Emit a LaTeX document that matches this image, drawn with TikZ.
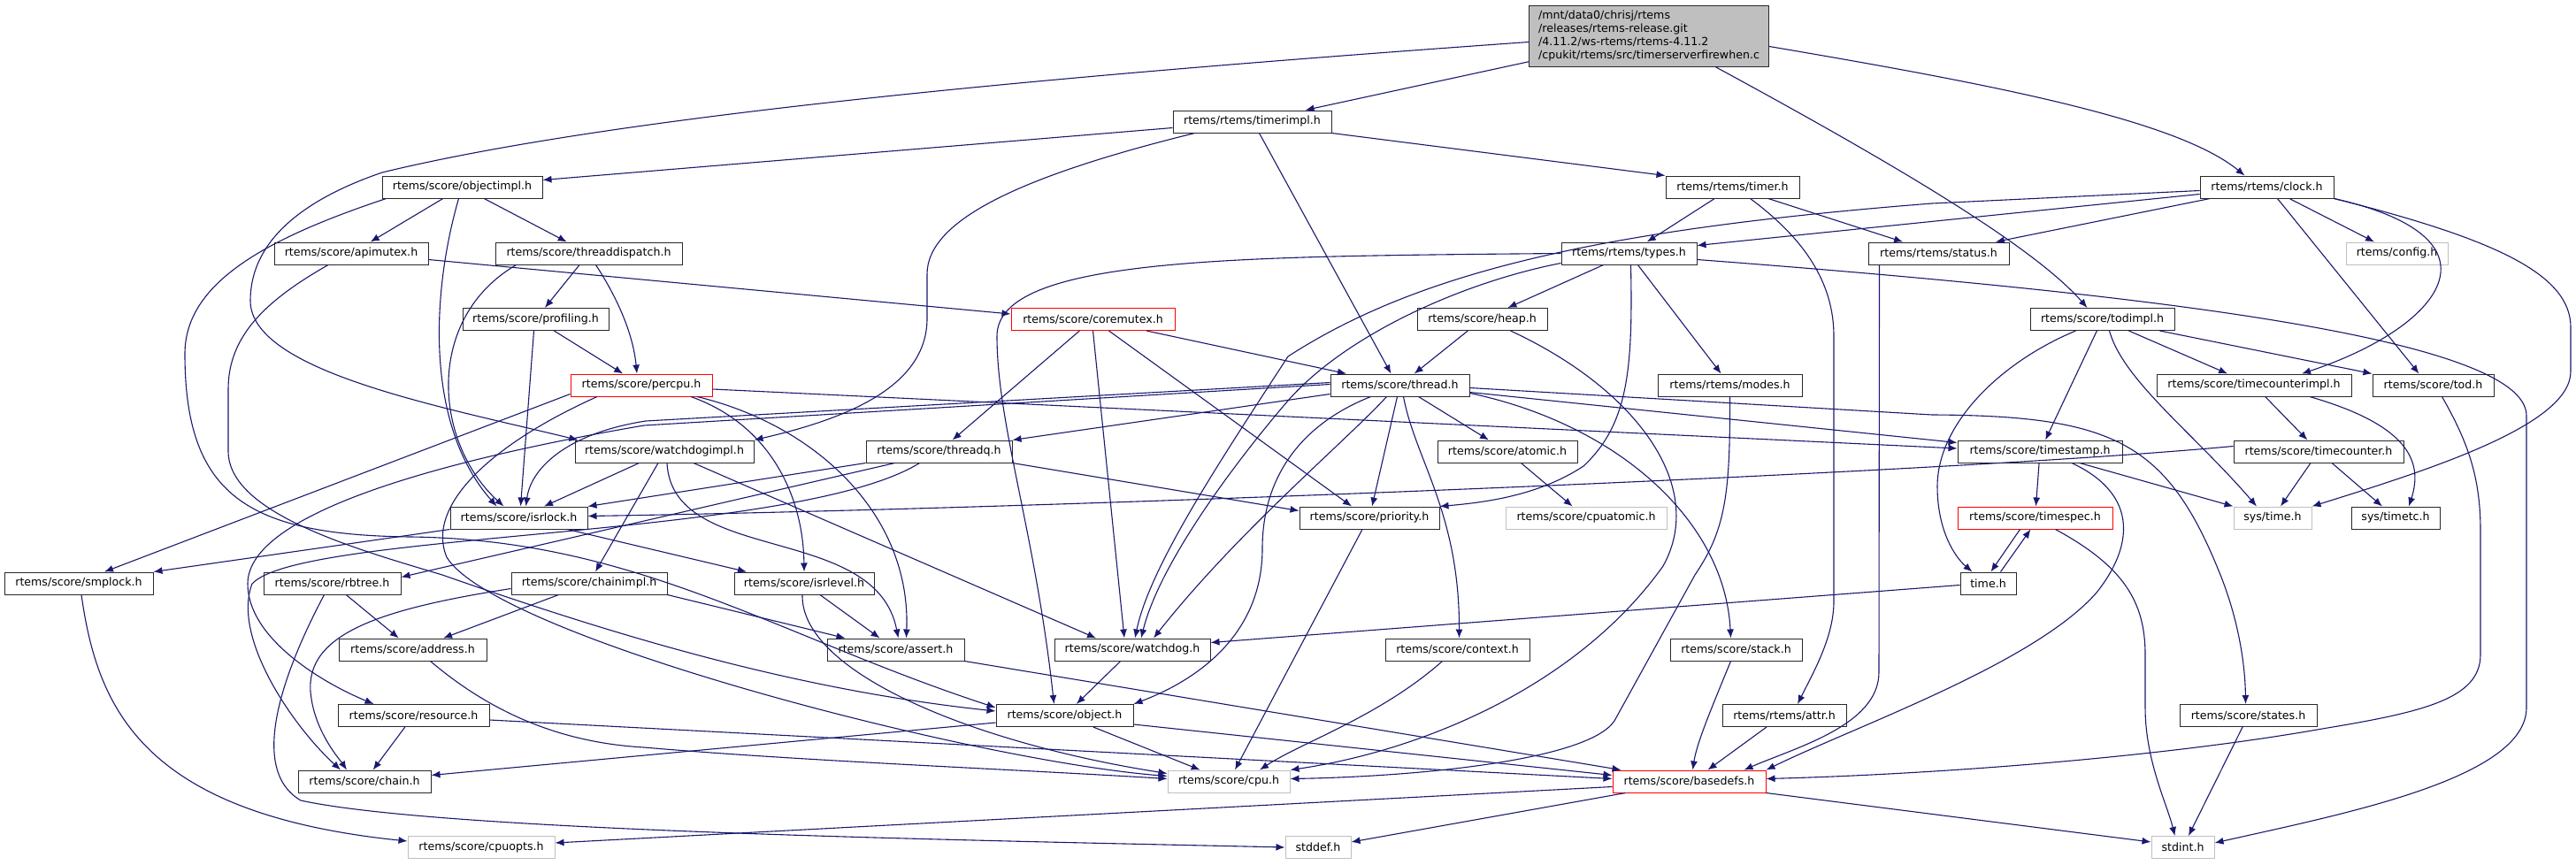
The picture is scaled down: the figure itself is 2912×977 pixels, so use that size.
\documentclass[tikz,border=0pt]{standalone}
\usepackage{fontspec}
\setmainfont{DejaVu Sans}
\usetikzlibrary{arrows.meta}
\definecolor{edgeblue}{RGB}{25,25,112}
\definecolor{truncred}{RGB}{255,0,0}
\definecolor{sysgray}{RGB}{191,191,191}
\definecolor{boxblack}{RGB}{40,40,40}
\tikzset{>={Latex[length=10pt,width=8pt]}}
\tikzset{
  hdr/.style={draw=boxblack, line width=1pt, fill=white, inner xsep=2pt, inner ysep=0pt,
    minimum height=25pt, font=\fontsize{12.6}{14.7}\selectfont},
  sys/.style={hdr, draw=sysgray},
  trunc/.style={hdr, draw=truncred},
  srcfile/.style={hdr, fill=sysgray, align=left},
  dep/.style={->, draw=edgeblue, line width=1.1pt}
}

\begin{document}
\begin{tikzpicture}[x=1pt, y=-1pt]
	\useasboundingbox[fill=white] (0,0) rectangle (2912,977);

	% row 0 and 1
	\node[srcfile, minimum width=271pt, minimum height=69pt] (top) at (1864,40.5)
		{/mnt/data0/chrisj/rtems\\/releases/rtems-release.git\\/4.11.2/ws-rtems/rtems-4.11.2\\/cpukit/rtems/src/timerserverfirewhen.c};
	\node[hdr, minimum width=179pt] (timerimpl) at (1415.5,137.5) {rtems/rtems/timerimpl.h};
	% row 2
	\node[hdr, minimum width=181pt] (objectimpl) at (522.5,211.5) {rtems/score/objectimpl.h};
	\node[hdr, minimum width=151pt] (timer) at (1958.5,211.5) {rtems/rtems/timer.h};
	\node[hdr, minimum width=151pt] (clock) at (2562.5,211.5) {rtems/rtems/clock.h};
	% row 3
	\node[hdr, minimum width=174pt] (apimutex) at (397,286.5) {rtems/score/apimutex.h};
	\node[hdr, minimum width=211pt] (threaddispatch) at (665.5,286.5) {rtems/score/threaddispatch.h};
	\node[hdr, minimum width=153pt] (types) at (1841.5,286.5) {rtems/rtems/types.h};
	\node[hdr, minimum width=159pt] (status) at (2191.5,286.5) {rtems/rtems/status.h};
	\node[sys, minimum width=115pt] (config) at (2709.5,286.5) {rtems/config.h};
	% row 4
	\node[hdr, minimum width=165pt] (profiling) at (605.5,361) {rtems/score/profiling.h};
	\node[trunc, minimum width=185pt] (coremutex) at (1235.5,361) {rtems/score/coremutex.h};
	\node[hdr, minimum width=147pt] (heap) at (1675.5,361) {rtems/score/heap.h};
	\node[hdr, minimum width=163pt] (todimpl) at (2376.5,361) {rtems/score/todimpl.h};
	% row 5
	\node[trunc, minimum width=160pt] (percpu) at (725,435.5) {rtems/score/percpu.h};
	\node[hdr, minimum width=157pt] (thread) at (1582.5,435.5) {rtems/score/thread.h};
	\node[hdr, minimum width=163pt] (modes) at (1955.5,435.5) {rtems/rtems/modes.h};
	\node[hdr, minimum width=220pt] (timecounterimpl) at (2548,435.5) {rtems/score/timecounterimpl.h};
	\node[hdr, minimum width=137pt] (tod) at (2750.5,435.5) {rtems/score/tod.h};
	% row 6
	\node[hdr, minimum width=202pt] (watchdogimpl) at (751,510.5) {rtems/score/watchdogimpl.h};
	\node[hdr, minimum width=165pt] (threadq) at (1061.5,510.5) {rtems/score/threadq.h};
	\node[hdr, minimum width=158pt] (atomic) at (1704,510.5) {rtems/score/atomic.h};
	\node[hdr, minimum width=186pt] (timestamp) at (2306,510.5) {rtems/score/timestamp.h};
	\node[hdr, minimum width=192pt] (timecounter) at (2621,510.5) {rtems/score/timecounter.h};
	% row 7
	\node[hdr, minimum width=155pt] (isrlock) at (586.5,585.5) {rtems/score/isrlock.h};
	\node[hdr, minimum width=158pt] (priority) at (1548,585.5) {rtems/score/priority.h};
	\node[sys, minimum width=182pt] (cpuatomic) at (1793,585.5) {rtems/score/cpuatomic.h};
	\node[trunc, minimum width=175pt] (timespec) at (2300.5,585.5) {rtems/score/timespec.h};
	\node[sys, minimum width=88pt] (systime) at (2569,585.5) {sys/time.h};
	\node[hdr, minimum width=100pt] (systimetc) at (2708,585.5) {sys/timetc.h};
	% row 8
	\node[hdr, minimum width=168pt] (smplock) at (89,659.5) {rtems/score/smplock.h};
	\node[hdr, minimum width=155pt] (rbtree) at (375.5,659.5) {rtems/score/rbtree.h};
	\node[hdr, minimum width=176pt] (chainimpl) at (666,659.5) {rtems/score/chainimpl.h};
	\node[hdr, minimum width=158pt] (isrlevel) at (909,659.5) {rtems/score/isrlevel.h};
	\node[hdr, minimum width=63pt] (timeh) at (2247.5,659.5) {time.h};
	% row 9
	\node[hdr, minimum width=167pt] (address) at (466.5,734.5) {rtems/score/address.h};
	\node[hdr, minimum width=155pt] (assert) at (1012.5,734.5) {rtems/score/assert.h};
	\node[hdr, minimum width=176pt] (watchdog) at (1280,734.5) {rtems/score/watchdog.h};
	\node[hdr, minimum width=163pt] (context) at (1647.5,734.5) {rtems/score/context.h};
	\node[hdr, minimum width=149pt] (stack) at (1962.5,734.5) {rtems/score/stack.h};
	% row 10
	\node[hdr, minimum width=171pt] (resource) at (467.5,809) {rtems/score/resource.h};
	\node[hdr, minimum width=155pt] (object) at (1203.5,809) {rtems/score/object.h};
	\node[hdr, minimum width=140pt] (attr) at (2017,809) {rtems/rtems/attr.h};
	\node[hdr, minimum width=155pt] (states) at (2541.5,809) {rtems/score/states.h};
	% row 11
	\node[hdr, minimum width=150pt] (chain) at (412,883.5) {rtems/score/chain.h};
	\node[sys, minimum width=138pt] (cpu) at (1389,883.5) {rtems/score/cpu.h};
	\node[trunc, minimum width=173pt] (basedefs) at (1909.5,883.5) {rtems/score/basedefs.h};
	% row 12
	\node[sys, minimum width=166pt] (cpuopts) at (544,958) {rtems/score/cpuopts.h};
	\node[sys, minimum width=74pt] (stddef) at (1490,958) {stddef.h};
	\node[sys, minimum width=71pt] (stdint) at (2467.5,958) {stdint.h};

	% source file
	\draw[dep] (top) -- (timerimpl);
	\draw[dep] ([yshift=-12pt]top.east) .. controls (2250,95) and (2460,135) .. ([xshift=-25pt]clock.north);
	\draw[dep] ([xshift=75pt]top.south) .. controls (2150,190) and (2300,280) .. ([xshift=-17pt]todimpl.north);
	\draw[dep] ([yshift=-7pt]top.west) .. controls (1200,85) and (700,130) .. (432,195) .. controls (330,230) and (283,280) .. (283,340) .. controls (283,420) and (500,460) .. ([xshift=4pt]watchdogimpl.north west);

	% timerimpl.h
	\draw[dep] ([yshift=-7pt]timerimpl.west) -- ([yshift=8pt]objectimpl.east);
	\draw[dep] (timerimpl.south east) -- (timer.north west);
	\draw[dep] ([xshift=8pt]timerimpl.south) -- ([xshift=-10pt]thread.north);
	\draw[dep] ([xshift=-65pt]timerimpl.south) .. controls (1150,200) and (1048,250) .. (1048,310) -- (1048,360) .. controls (1048,440) and (950,475) .. (watchdogimpl.north east);

	% objectimpl.h
	\draw[dep] (objectimpl) -- (apimutex);
	\draw[dep] (objectimpl) -- (threaddispatch);
	\draw[dep] ([xshift=-4pt]objectimpl.south) .. controls (488,330) and (480,480) .. ([xshift=-25pt]isrlock.north);
	\draw[dep] ([xshift=-86pt]objectimpl.south) .. controls (300,270) and (209,320) .. (209,400) .. controls (209,560) and (280,605) .. (464,607) .. controls (720,610) and (880,720) .. ([yshift=9pt]object.west);

	% timer.h and clock.h
	\draw[dep] (timer) -- (types);
	\draw[dep] (timer) -- (status);
	\draw[dep] ([xshift=20pt]timer.south) .. controls (2040,270) and (2073,320) .. (2073,380) -- (2073,680) .. controls (2073,720) and (2050,760) .. ([xshift=15pt]attr.north);
	\draw[dep] ([yshift=-8pt]clock.west) -- ([yshift=9pt]types.east);
	\draw[dep] (clock) -- (status);
	\draw[dep] (clock) -- (config);
	\draw[dep] ([xshift=12pt]clock.south) -- ([xshift=-16pt]tod.north);
	\draw[dep] (clock.south east) .. controls (2840,270) and (2760,370) .. ([xshift=54pt]timecounterimpl.north);
	\draw[dep] (clock.south east) .. controls (2820,270) and (2906,310) .. (2906,370) -- (2906,420) .. controls (2906,480) and (2750,530) .. (systime.north east);
	\draw[dep] ([yshift=-4pt]clock.west) -- (2184,230) .. controls (1800,260) and (1600,310) .. (1456,403) .. controls (1380,520) and (1300,640) .. ([xshift=3pt]watchdog.north);

	% apimutex.h and threaddispatch.h
	\draw[dep] ([yshift=-7pt]apimutex.east) -- ([yshift=6pt]coremutex.west);
	\draw[dep] ([xshift=-26pt]apimutex.south) .. controls (300,340) and (258,380) .. (258,440) -- (258,510) .. controls (258,580) and (400,620) .. (500,650) .. controls (700,720) and (900,780) .. ([yshift=5pt]object.west);
	\draw[dep] (threaddispatch) -- (profiling);
	\draw[dep] ([xshift=8pt]threaddispatch.south) .. controls (700,340) and (716,380) .. ([xshift=-5pt]percpu.north);
	\draw[dep] ([xshift=-82pt]threaddispatch.south) .. controls (480,360) and (490,500) .. ([xshift=-17pt]isrlock.north);

	% types.h and status.h
	\draw[dep] (types) -- (heap);
	\draw[dep] (types) -- (modes);
	\draw[dep] (types.west) .. controls (1400,290) and (1127,290) .. (1127,380) .. controls (1127,480) and (1170,600) .. ([xshift=-12pt]object.north);
	\draw[dep] ([xshift=2pt]types.south) .. controls (1846,420) and (1840,480) .. (1790,527) .. controls (1740,560) and (1680,568) .. (priority.north east);
	\draw[dep] ([yshift=2pt]types.south west) .. controls (1650,320) and (1520,380) .. (1456,453) .. controls (1390,530) and (1310,640) .. ([xshift=10pt]watchdog.north);
	\draw[dep] ([yshift=-7pt]types.east) .. controls (2400,330) and (2856,380) .. (2856,470) -- (2856,800) .. controls (2856,880) and (2650,920) .. ([yshift=5pt]stdint.east);
	\draw[dep] ([xshift=-67pt]status.south) -- (2124,760) .. controls (2124,820) and (2030,845) .. ([xshift=62pt]basedefs.north);

	% row 4
	\draw[dep] (profiling) -- (percpu);
	\draw[dep] ([xshift=-2pt]profiling.south) -- ([xshift=2pt]isrlock.north);
	\draw[dep] (coremutex) -- (threadq);
	\draw[dep] (coremutex) -- (thread);
	\draw[dep] ([xshift=18pt]coremutex.south) -- ([xshift=-20pt]priority.north);
	\draw[dep] (coremutex.south) -- ([xshift=-9pt]watchdog.north);
	\draw[dep] (heap) -- (thread);
	\draw[dep] ([xshift=32pt]heap.south) .. controls (1850,440) and (1930,550) .. (1880,640) .. controls (1780,780) and (1600,850) .. (cpu.north east);
	\draw[dep] (todimpl) -- (timestamp);
	\draw[dep] (todimpl) -- (timecounterimpl);
	\draw[dep] ([xshift=65pt]todimpl.south) -- (tod.north west);
	\draw[dep] ([xshift=8pt]todimpl.south) .. controls (2400,430) and (2480,490) .. ([xshift=-18pt]systime.north);
	\draw[dep] ([xshift=-30pt]todimpl.south) .. controls (2260,410) and (2190,480) .. (2190,550) .. controls (2190,600) and (2210,630) .. ([xshift=-18pt]timeh.north);

	% percpu.h
	\draw[dep] ([yshift=-10pt]percpu.west) -- ([xshift=29pt]smplock.north);
	\draw[dep] ([yshift=-4.5pt]percpu.east) -- ([yshift=3.5pt]timestamp.west);
	\draw[dep] ([xshift=56pt]percpu.south) .. controls (870,480) and (908,560) .. (isrlevel.north);
	\draw[dep] ([xshift=63pt]percpu.south) .. controls (920,480) and (1030,580) .. ([xshift=12pt]assert.north);
	\draw[dep] ([xshift=-50pt]percpu.south) .. controls (560,500) and (480,570) .. (505,630) .. controls (560,720) and (1100,860) .. ([yshift=6pt]cpu.west);

	% thread.h
	\draw[dep] ([yshift=3pt]thread.west) -- (730,476) .. controls (640,490) and (600,530) .. ([xshift=8pt]isrlock.north);
	\draw[dep] ([yshift=1pt]thread.west) -- (728,481) .. controls (500,520) and (280,580) .. (280,660) .. controls (280,720) and (360,770) .. ([xshift=-45pt]resource.north);
	\draw[dep] ([yshift=-10pt]thread.west) -- (threadq.north east);
	\draw[dep] ([xshift=-33pt]thread.south) .. controls (1470,480) and (1427,540) .. (1427,620) .. controls (1427,720) and (1350,770) .. (object.north east);
	\draw[dep] ([xshift=-15pt]thread.south) .. controls (1520,500) and (1400,600) .. ([xshift=24pt]watchdog.north);
	\draw[dep] ([xshift=-3pt]thread.south) -- ([xshift=3pt]priority.north);
	\draw[dep] ([xshift=4pt]thread.south) .. controls (1600,520) and (1650,580) .. ([xshift=2pt]context.north);
	\draw[dep] (thread) -- (atomic);
	\draw[dep] ([yshift=-9pt]thread.east) .. controls (1830,480) and (1950,590) .. ([xshift=-6pt]stack.north);
	\draw[dep] ([yshift=-8pt]thread.east) -- ([yshift=10pt]timestamp.west);
	\draw[dep] ([yshift=-3pt]thread.east) -- (2184,469) .. controls (2390,470) and (2450,500) .. (2510,650) .. controls (2530,700) and (2538,750) .. ([xshift=-3pt]states.north);

	% row 6
	\draw[dep] (watchdogimpl) -- (isrlock);
	\draw[dep] ([xshift=-7pt]watchdogimpl.south) -- ([xshift=7pt]chainimpl.north);
	\draw[dep] ([xshift=3pt]watchdogimpl.south) .. controls (760,640) and (990,590) .. ([xshift=3pt]assert.north);
	\draw[dep] ([xshift=33pt]watchdogimpl.south) -- ([xshift=-41pt]watchdog.north);
	\draw[dep] (threadq.south west) -- (isrlock.north east);
	\draw[dep] ([xshift=-50pt]threadq.south) -- ([yshift=7pt]rbtree.east);
	\draw[dep] (threadq.south east) -- ([yshift=8pt]priority.west);
	\draw[dep] ([xshift=-22pt]threadq.south) .. controls (900,610) and (340,600) .. (285,660) .. controls (262,720) and (330,820) .. ([xshift=-27pt]chain.north);
	\draw[dep] (atomic) -- (cpuatomic);
	\draw[dep] (timestamp) -- (timespec);
	\draw[dep] ([xshift=45pt]timestamp.south) -- (systime.north west);
	\draw[dep] ([xshift=36pt]timestamp.south) .. controls (2420,560) and (2410,620) .. (2370,670) .. controls (2300,750) and (2100,820) .. (basedefs.north east);
	\draw[dep] (timecounterimpl) -- (timecounter);
	\draw[dep] ([xshift=63pt]timecounterimpl.south) .. controls (2720,480) and (2740,520) .. ([xshift=15pt]systimetc.north);
	\draw[dep] ([xshift=10pt]tod.south) .. controls (2790,500) and (2804,540) .. (2804,600) -- (2804,740) .. controls (2804,790) and (2740,805) .. (2625,824) .. controls (2450,855) and (2200,875) .. ([yshift=3pt]basedefs.east);
	\draw[dep] (timecounter) -- (systime);
	\draw[dep] (timecounter) -- (systimetc);
	\draw[dep] ([yshift=6pt]timecounter.west) .. controls (2200,535) and (1200,575) .. ([yshift=2pt]isrlock.east);

	% row 7 and 8
	\draw[dep] ([xshift=-17pt]timespec.south) -- ([xshift=3pt]timeh.north);
	\draw[dep] ([xshift=23pt]timespec.south) .. controls (2400,640) and (2425,680) .. (2425,740) -- (2425,800) .. controls (2425,860) and (2450,910) .. ([xshift=-9pt]stdint.north);
	\draw[dep] ([xshift=14pt]timeh.north) -- ([xshift=-5pt]timespec.south);
	\draw[dep] ([yshift=-2pt]timeh.west) -- ([yshift=8pt]watchdog.east);
	\draw[dep] (isrlock.south west) -- (smplock.north east);
	\draw[dep] ([xshift=55pt]isrlock.south) -- ([xshift=-65pt]isrlevel.north);
	\draw[dep] ([xshift=3pt]smplock.south) .. controls (110,800) and (160,920) .. ([yshift=7pt]cpuopts.west);
	\draw[dep] (rbtree) -- (address);
	\draw[dep] ([xshift=-9pt]rbtree.south) .. controls (320,760) and (280,870) .. (340,905) .. controls (500,940) and (1100,950) .. (stddef.west);
	\draw[dep] (chainimpl) -- (address);
	\draw[dep] ([yshift=-6pt]chainimpl.west) .. controls (420,690) and (340,720) .. (352,790) .. controls (358,830) and (385,860) .. ([xshift=-20pt]chain.north);
	\draw[dep] (chainimpl.south east) -- ([xshift=-57pt]assert.north);
	\draw[dep] (isrlevel) -- (assert);
	\draw[dep] ([xshift=-2pt]isrlevel.south) .. controls (905,760) and (1100,840) .. ([yshift=9pt]cpu.west);

	% row 9 and below
	\draw[dep] ([xshift=20pt]address.south) .. controls (560,810) and (640,840) .. (728,845) .. controls (900,860) and (1150,870) .. ([yshift=3pt]cpu.west);
	\draw[dep] (assert.south east) -- ([xshift=-77pt]basedefs.north);
	\draw[dep] (watchdog) -- (object);
	\draw[dep] ([xshift=-17pt]context.south) .. controls (1560,810) and (1470,840) .. ([xshift=35pt]cpu.north);
	\draw[dep] ([xshift=-8pt]priority.south) -- ([xshift=7pt]cpu.north);
	\draw[dep] (modes.south) .. controls (1956,560) and (1950,600) .. (1916,650) -- (1825,815) .. controls (1795,860) and (1600,878) .. ([yshift=3pt]cpu.east);
	\draw[dep] ([xshift=-6pt]stack.south) .. controls (1935,800) and (1918,840) .. ([xshift=4pt]basedefs.north);
	\draw[dep] ([xshift=-20pt]attr.south) -- ([xshift=21pt]basedefs.north);
	\draw[dep] ([yshift=-8pt]object.west) -- ([yshift=7pt]chain.east);
	\draw[dep] (object) -- (cpu);
	\draw[dep] ([yshift=-10pt]object.east) -- ([yshift=7pt]basedefs.west);
	\draw[dep] (resource) -- (chain);
	\draw[dep] ([yshift=-5pt]resource.east) -- ([yshift=3pt]basedefs.west);
	\draw[dep] (states) -- (stdint);
	\draw[dep] ([yshift=-6pt]basedefs.west) -- ([yshift=5pt]cpuopts.east);
	\draw[dep] ([xshift=-72pt]basedefs.south) -- ([yshift=6pt]stddef.east);
	\draw[dep] (basedefs.south east) -- ([yshift=6pt]stdint.west);

\end{tikzpicture}
\end{document}
